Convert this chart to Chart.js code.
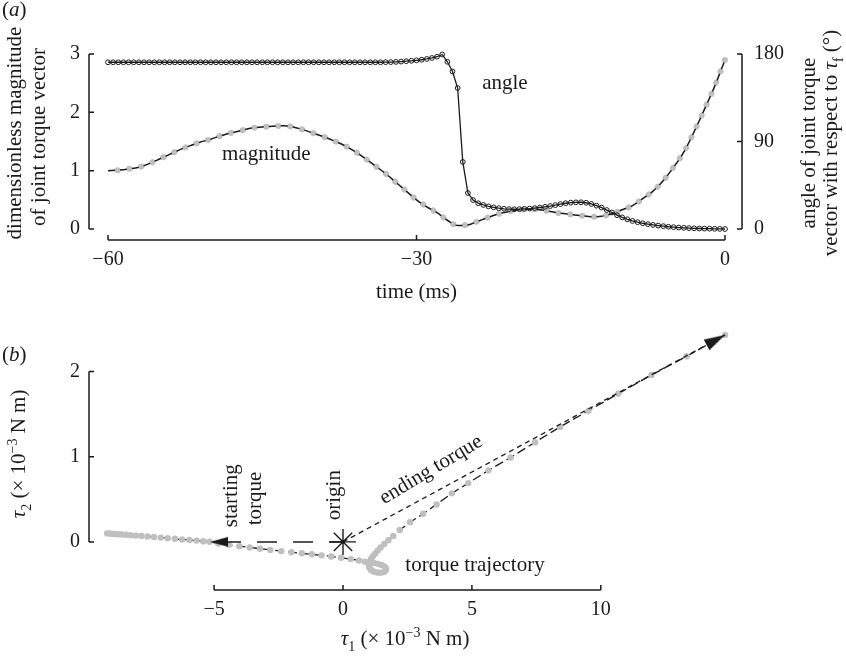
<!DOCTYPE html>
<html>
<head>
<meta charset="utf-8">
<script src="https://cdn.jsdelivr.net/npm/chart.js@4.4.1/dist/chart.umd.min.js"></script>
<style>
  html, body { margin: 0; padding: 0; background: #fff; }
  #wrap { position: relative; width: 846px; height: 656px; }
  canvas { position: absolute; left: 0; }
  #chartA { top: 0; }
  #chartB { top: 310px; }
</style>
</head>
<body>
<div id="wrap">
  <canvas id="chartA" width="846" height="310"></canvas>
  <canvas id="chartB" width="846" height="346"></canvas>
</div>
<script>

/** (a) joint torque vector over the last 60 ms **/

// magnitude, sampled every 1 ms
const magTime = [-60,-59,-58,-57,-56,-55,-54,-53,-52,-51,-50,-49,-48,-47,-46,-45,-44,-43,-42,-41,
  -40,-39,-38,-37,-36,-35,-34,-33,-32,-31,-30,-29,-28,-27,-26,-25,-24,-23,-22,-21,
  -20,-19,-18,-17,-16,-15,-14,-13,-12,-11,-10,-9,-8,-7,-6,-5,-4,-3,-2,-1,0];
const magnitude = [1.00,1.01,1.03,1.06,1.12,1.20,1.28,1.36,1.43,1.49,1.54,1.60,1.65,1.69,1.73,1.75,1.76,1.77,1.75,1.70,
  1.64,1.58,1.51,1.43,1.33,1.21,1.08,0.95,0.80,0.65,0.50,0.38,0.28,0.15,0.06,0.07,0.135,0.20,0.26,0.30,
  0.33,0.34,0.33,0.30,0.27,0.25,0.23,0.21,0.22,0.26,0.33,0.40,0.52,0.65,0.83,1.06,1.32,1.67,2.05,2.45,2.90];

// angle (degrees), sampled every 0.5 ms
const angleTime = [-60,-59.5,-59,-58.5,-58,-57.5,-57,-56.5,-56,-55.5,-55,-54.5,-54,-53.5,-53,-52.5,-52,-51.5,-51,-50.5,
  -50,-49.5,-49,-48.5,-48,-47.5,-47,-46.5,-46,-45.5,-45,-44.5,-44,-43.5,-43,-42.5,-42,-41.5,-41,-40.5,
  -40,-39.5,-39,-38.5,-38,-37.5,-37,-36.5,-36,-35.5,-35,-34.5,-34,-33.5,-33,-32.5,-32,-31.5,-31,-30.5,
  -30,-29.5,-29,-28.5,-28,-27.5,-27,-26.5,-26,-25.5,-25,-24.5,-24,-23.5,-23,-22.5,-22,-21.5,-21,-20.5,
  -20,-19.5,-19,-18.5,-18,-17.5,-17,-16.5,-16,-15.5,-15,-14.5,-14,-13.5,-13,-12.5,-12,-11.5,-11,-10.5,
  -10,-9.5,-9,-8.5,-8,-7.5,-7,-6.5,-6,-5.5,-5,-4.5,-4,-3.5,-3,-2.5,-2,-1.5,-1,-0.5,0];
const angleDeg = [171.5,171.5,171.5,171.5,171.5,171.5,171.5,171.5,171.5,171.5,171.5,171.5,171.5,171.5,171.5,171.5,171.5,171.5,171.5,171.5,
  171.5,171.5,171.5,171.5,171.5,171.5,171.5,171.5,171.5,171.5,171.5,171.5,171.5,171.5,171.5,171.5,171.5,171.5,171.5,171.5,
  171.5,171.5,171.5,171.5,171.5,171.5,171.5,171.5,171.5,171.5,171.5,171.5,171.5,171.5,171.6,171.7,171.9,172.2,172.6,173.0,
  173.5,174.1,174.9,175.9,177.2,179.5,172.0,162.0,145.0,69.0,37.0,29.8,26.5,24.7,23.3,22.3,21.4,20.8,20.4,20.3,
  20.4,20.7,21.0,21.5,22.1,22.8,23.6,24.6,25.6,26.5,27.1,27.4,27.5,27.0,25.8,24.0,22.0,19.5,17.0,14.2,
  12.0,10.0,8.3,7.0,5.9,5.0,4.2,3.5,2.9,2.3,1.9,1.5,1.2,0.9,0.7,0.5,0.4,0.3,0.2,0.1,0.0];

const timeTicks = [-60, -30, 0];
const magTicks = [0, 1, 2, 3];
const angleTicks = [0, 90, 180];

/** (b) torque trajectory in joint-torque space (x 10^-3 N m) **/

const tau1 = [-9.15,-9.06,-8.96,-8.85,-8.72,-8.58,-8.42,-8.24,-8.04,-7.82,-7.58,-7.33,-7.07,-6.8,-6.52,-6.24,-5.96,-5.68,-5.42,-5.18,
  -4.84,-4.42,-4.02,-3.62,-3.22,-2.82,-2.4,-2.0,-1.6,-1.21,-0.83,-0.46,-0.08,0.3,0.62,0.85,
  1.05,1.2,1.36,1.5,1.62,1.67,1.65,1.58,1.45,1.32,1.18,1.08,1.02,1.0,1.03,1.09,1.16,1.25,1.35,1.46,1.6,
  1.76,1.95,2.2,2.6,3.11,3.63,4.22,4.86,5.64,6.5,7.45,8.42,9.52,10.68,11.97,13.33,14.82];
const tau2 = [0.100,0.098,0.096,0.093,0.090,0.087,0.083,0.079,0.074,0.069,0.063,0.057,0.050,0.043,0.036,0.029,0.022,0.015,0.008,0.002,
  -0.020,-0.035,-0.050,-0.065,-0.080,-0.094,-0.108,-0.121,-0.134,-0.146,-0.158,-0.171,-0.186,-0.202,-0.218,-0.232,
  -0.243,-0.248,-0.258,-0.270,-0.290,-0.315,-0.337,-0.355,-0.362,-0.360,-0.348,-0.328,-0.300,-0.268,-0.237,-0.200,-0.167,-0.135,-0.100,-0.065,-0.025,
  0.020,0.070,0.140,0.230,0.330,0.440,0.570,0.690,0.840,0.990,1.170,1.350,1.540,1.740,1.960,2.180,2.430];

const origin = [0, 0];
const startTorque = [-5.15, 0];
const endTorque = [14.82, 2.43];

const tau1Ticks = [-5, 0, 5, 10];
const tau2Ticks = [0, 1, 2];

const INK = '#1a1a1a';
const GREY = '#bfbfbf';
const FONT = '"Liberation Serif", "Times New Roman", serif';

Chart.defaults.font.family = FONT;
Chart.defaults.font.size = 20;
Chart.defaults.color = INK;
Chart.defaults.animation = false;

const minusFmt = v => (v < 0 ? '\u2212' + Math.abs(v) : '' + v);

// text with italic / sub / sup runs: parts = [[text, style], ...]
function drawRich(ctx, parts, x, y, opts) {
  opts = opts || {};
  const size = opts.size || 21;
  const fontOf = st => (st.indexOf('i') === 0 ? 'italic ' : '') +
    ((/sub|sup/.test(st)) ? Math.round(size * 0.68) : size) + 'px ' + FONT;
  ctx.save();
  ctx.translate(x, y);
  if (opts.rot) ctx.rotate(opts.rot * Math.PI / 180);
  let w = 0;
  parts.forEach(p => { ctx.font = fontOf(p[1] || ''); w += ctx.measureText(p[0]).width; });
  let cx = opts.align === 'center' ? -w / 2 : (opts.align === 'right' ? -w : 0);
  ctx.fillStyle = INK;
  ctx.textBaseline = 'alphabetic';
  ctx.textAlign = 'left';
  parts.forEach(p => {
    const st = p[1] || '';
    ctx.font = fontOf(st);
    const dy = /sub/.test(st) ? size * 0.3 : (/sup/.test(st) ? -size * 0.4 : 0);
    ctx.fillText(p[0], cx, dy);
    cx += ctx.measureText(p[0]).width;
  });
  ctx.restore();
}

// offset axes with inward ticks, then the texts
const frame = {
  id: 'frame',
  afterDraw(chart, args, opts) {
    const ctx = chart.ctx, area = chart.chartArea;
    ctx.save();
    ctx.strokeStyle = INK;
    ctx.lineWidth = 1.5;
    opts.axes.forEach(a => {
      const s = chart.scales[a.id];
      const p0 = s.getPixelForValue(a.ticks[0]);
      const p1 = s.getPixelForValue(a.ticks[a.ticks.length - 1]);
      ctx.beginPath();
      if (a.side === 'bottom') {
        const y = area.bottom;
        ctx.moveTo(p0, y); ctx.lineTo(p1, y);
        a.ticks.forEach(v => { const p = s.getPixelForValue(v); ctx.moveTo(p, y); ctx.lineTo(p, y - 5); });
      } else {
        const x = a.side === 'left' ? area.left : area.right;
        const d = a.side === 'left' ? 5 : -5;
        ctx.moveTo(x, p0); ctx.lineTo(x, p1);
        a.ticks.forEach(v => { const p = s.getPixelForValue(v); ctx.moveTo(x, p); ctx.lineTo(x + d, p); });
      }
      ctx.stroke();
    });
    ctx.restore();
    if (opts.texts) opts.texts(chart, chart.ctx);
  }
};

function hiddenGrid() {
  return { display: false, drawTicks: false };
}

/** panel (a) **/
new Chart(document.getElementById('chartA'), {
  type: 'line',
  data: {
    datasets: [
      {
        label: 'angle',
        yAxisID: 'yR',
        data: angleTime.map((t, i) => ({ x: t, y: angleDeg[i] })),
        borderColor: INK,
        borderWidth: 1.3,
        pointRadius: 2.4,
        pointBorderWidth: 1,
        pointBorderColor: INK,
        pointBackgroundColor: 'rgba(255,255,255,0)',
        order: 0,
        clip: false
      },
      {
        label: 'magnitude',
        yAxisID: 'y',
        data: magTime.map((t, i) => ({ x: t, y: magnitude[i] })),
        borderColor: INK,
        borderWidth: 1.5,
        borderDash: [7, 5],
        pointRadius: 0,
        cubicInterpolationMode: 'monotone',
        order: 1,
        clip: false
      },
      {
        label: 'magnitude (dots)',
        yAxisID: 'y',
        data: magTime.map((t, i) => ({ x: t, y: magnitude[i] })),
        borderColor: GREY,
        borderWidth: 6,
        borderDash: [0.1, 11.9],
        borderDashOffset: 2.5,
        borderCapStyle: 'round',
        pointRadius: 0,
        cubicInterpolationMode: 'monotone',
        order: 2,
        clip: false
      }
    ]
  },
  options: {
    responsive: false,
    events: [],
    layout: { padding: { top: 54, left: 0, right: 0, bottom: 0 }, autoPadding: false },
    plugins: {
      legend: { display: false },
      tooltip: { enabled: false },
      frame: {
        axes: [
          { id: 'x', side: 'bottom', ticks: timeTicks },
          { id: 'y', side: 'left', ticks: magTicks },
          { id: 'yR', side: 'right', ticks: angleTicks }
        ],
        texts(chart, ctx) {
          const xs = chart.scales.x, ys = chart.scales.y;
          drawRich(ctx, [['(', ''], ['a', 'i'], [')', '']], 2, 16);
          drawRich(ctx, [['dimensionless magnitude', '']], 21, 133, { rot: -90, align: 'center' });
          drawRich(ctx, [['of joint torque vector', '']], 45, 137, { rot: -90, align: 'center' });
          drawRich(ctx, [['angle of joint torque', '']], 815, 143, { rot: -90, align: 'center' });
          drawRich(ctx, [['vector with respect to ', ''], ['\u03C4', 'i'], ['f', 'sub'], [' (\u00B0)', '']], 837, 143, { rot: -90, align: 'center' });
          drawRich(ctx, [['time (ms)', '']], 416.5, 298, { align: 'center' });
          drawRich(ctx, [['angle', '']], xs.getPixelForValue(-21.4), ys.getPixelForValue(2.40), { align: 'center' });
          drawRich(ctx, [['magnitude', '']], xs.getPixelForValue(-44.6), ys.getPixelForValue(1.18), { align: 'center' });
        }
      }
    },
    scales: {
      x: {
        type: 'linear', min: -61.848, max: 1.653,
        grid: hiddenGrid(), border: { display: false },
        afterBuildTicks: s => { s.ticks = timeTicks.map(v => ({ value: v })); },
        afterFit: s => { s.height = 70; },
        ticks: { padding: 8, autoSkip: false, maxRotation: 0, callback: minusFmt }
      },
      y: {
        position: 'left', min: -0.1886, max: 3,
        grid: hiddenGrid(), border: { display: false },
        afterBuildTicks: s => { s.ticks = magTicks.map(v => ({ value: v })); },
        afterFit: s => { s.width = 89; },
        ticks: { padding: 9, autoSkip: false, callback: minusFmt }
      },
      yR: {
        position: 'right', min: -11.316, max: 180,
        grid: hiddenGrid(), border: { display: false },
        afterBuildTicks: s => { s.ticks = angleTicks.map(v => ({ value: v })); },
        afterFit: s => { s.width = 104; },
        ticks: { padding: 12, autoSkip: false, callback: minusFmt }
      }
    }
  },
  plugins: [frame]
});

/** panel (b) **/
function makeArrow(len, half) {
  const c = document.createElement('canvas');
  c.width = len * 2;
  c.height = half * 2 + 2;
  const g = c.getContext('2d');
  g.fillStyle = INK;
  g.beginPath();
  g.moveTo(len, half + 1);
  g.lineTo(0, 1);
  g.lineTo(0, half * 2 + 1);
  g.closePath();
  g.fill();
  return c;
}
const startHead = makeArrow(18, 5);
const endHead = makeArrow(21, 6);

new Chart(document.getElementById('chartB'), {
  type: 'line',
  data: {
    datasets: [
      {
        label: 'origin',
        data: [{ x: origin[0], y: origin[1] }],
        showLine: false,
        pointStyle: 'star',
        pointRadius: 13,
        pointBorderColor: INK,
        pointBorderWidth: 1.4,
        order: 0,
        clip: false
      },
      {
        label: 'starting torque',
        data: [{ x: origin[0], y: origin[1] }, { x: startTorque[0], y: startTorque[1] }],
        borderColor: INK,
        borderWidth: 1.5,
        borderDash: [20, 16],
        borderDashOffset: 6,
        pointStyle: startHead,
        pointRadius: [0, 8],
        pointRotation: 180,
        order: 1,
        clip: false
      },
      {
        label: 'ending torque',
        data: [{ x: origin[0], y: origin[1] }, { x: endTorque[0], y: endTorque[1] }],
        borderColor: INK,
        borderWidth: 1.3,
        borderDash: [5, 4],
        pointStyle: endHead,
        pointRadius: [0, 8],
        pointRotation: c => {
          const xs = c.chart.scales.x, ys = c.chart.scales.y;
          if (!xs || !ys) return 0;
          const dx = xs.getPixelForValue(endTorque[0]) - xs.getPixelForValue(origin[0]);
          const dy = ys.getPixelForValue(endTorque[1]) - ys.getPixelForValue(origin[1]);
          return Math.atan2(dy, dx) * 180 / Math.PI;
        },
        order: 1,
        clip: false
      },
      {
        label: 'torque trajectory',
        data: tau1.map((v, i) => ({ x: v, y: tau2[i] })),
        borderColor: INK,
        borderWidth: 1.3,
        borderDash: [9, 4],
        pointRadius: 3.2,
        pointBorderWidth: 0,
        pointBackgroundColor: GREY,
        order: 3,
        clip: false
      }
    ]
  },
  options: {
    responsive: false,
    events: [],
    layout: { padding: { top: 20, left: 0, right: 104, bottom: 0 }, autoPadding: false },
    plugins: {
      legend: { display: false },
      tooltip: { enabled: false },
      frame: {
        axes: [
          { id: 'x', side: 'bottom', ticks: tau1Ticks },
          { id: 'y', side: 'left', ticks: tau2Ticks }
        ],
        texts(chart, ctx) {
          const xs = chart.scales.x, ys = chart.scales.y;
          const px = v => xs.getPixelForValue(v), py = v => ys.getPixelForValue(v);
          drawRich(ctx, [['(', ''], ['b', 'i'], [')', '']], 2, 51);
          drawRich(ctx, [['\u03C4', 'i'], ['2', 'sub'], [' (\u00D7 10', ''], ['\u22123', 'sup'], [' N m)', '']], 25, 144, { rot: -90, align: 'center' });
          drawRich(ctx, [['\u03C4', 'i'], ['1', 'sub'], [' (\u00D7 10', ''], ['\u22123', 'sup'], [' N m)', '']], 405, 335, { align: 'center' });
          drawRich(ctx, [['starting', '']], px(-4.11), py(0.172), { rot: -90 });
          drawRich(ctx, [['torque', '']], px(-3.18), py(0.195), { rot: -90 });
          drawRich(ctx, [['origin', '']], px(-0.1), py(0.254), { rot: -90 });
          drawRich(ctx, [['ending torque', '']], px(3.53), py(0.79), { rot: -31, align: 'center' });
          drawRich(ctx, [['torque trajectory', '']], px(5.12), py(-0.343), { align: 'center' });
        }
      }
    },
    scales: {
      x: {
        type: 'linear', min: -9.853, max: 15.477,
        grid: hiddenGrid(), border: { display: false },
        afterBuildTicks: s => { s.ticks = tau1Ticks.map(v => ({ value: v })); },
        afterFit: s => { s.height = 66; },
        ticks: { padding: 8, autoSkip: false, maxRotation: 0, callback: minusFmt }
      },
      y: {
        position: 'left', min: -0.565, max: 2.476,
        grid: hiddenGrid(), border: { display: false },
        afterBuildTicks: s => { s.ticks = tau2Ticks.map(v => ({ value: v })); },
        afterFit: s => { s.width = 89; },
        ticks: { padding: 9, autoSkip: false, callback: minusFmt }
      }
    }
  },
  plugins: [frame]
});

</script>
</body>
</html>
